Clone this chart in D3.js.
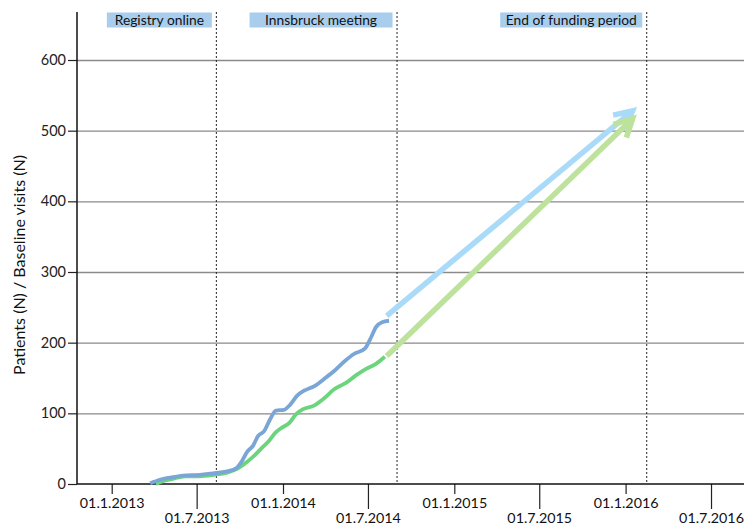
<!DOCTYPE html>
<html>
<head>
<meta charset="UTF-8">
<title>Registry recruitment</title>
<style>
  body { margin: 0; background: #fff; }
  svg { display: block; font-family: Lato, "Open Sans", sans-serif; }
</style>
</head>
<body>
<svg id="chart" width="744" height="526"></svg>
<script src="https://d3js.org/d3.v7.min.js"></script>
<script>

// ---- data ----
// cumulative patients (blue)
const patientDates = ["2013-03-24","2013-04-14","2013-05-05","2013-06-02","2013-07-08","2013-08-05",
  "2013-09-04","2013-09-23","2013-10-06","2013-10-16","2013-10-29","2013-11-09","2013-11-22",
  "2013-12-04","2013-12-17","2014-01-03","2014-01-16","2014-01-31","2014-02-15","2014-03-10",
  "2014-04-03","2014-04-20","2014-05-11","2014-06-01","2014-06-25","2014-07-08","2014-07-18",
  "2014-07-31","2014-08-15"];
const patientValues = [1, 6, 9, 12, 13, 15, 18, 22, 33, 45, 54, 68, 75, 91, 104, 105, 112, 125,
  132, 139, 151, 160, 173, 184, 192, 208, 222, 229, 231];

// cumulative baseline visits (green)
const visitDates = ["2013-04-05","2013-04-20","2013-05-09","2013-06-06","2013-07-08","2013-08-07",
  "2013-09-04","2013-09-27","2013-10-16","2013-11-02","2013-11-17","2013-12-02","2013-12-15",
  "2013-12-28","2014-01-14","2014-01-29","2014-02-13","2014-03-08","2014-03-29","2014-04-20",
  "2014-05-15","2014-06-06","2014-06-27","2014-07-18","2014-08-06"];
const visitValues = [0, 4, 7, 11, 11, 13, 16, 22, 31, 41, 51, 61, 72, 79, 86, 99, 106, 111, 121,
  134, 143, 154, 163, 170, 180];

// projected growth arrows: start and end date, start and end value
const projectionDates = ["2014-08-10", "2016-01-16"];
const patientProjection = [238, 528];
const visitProjection = [181, 517];

// milestones
const milestoneDates = ["2013-08-12", "2014-09-01", "2016-02-15"];
const milestoneLabels = ["Registry online", "Innsbruck meeting", "End of funding period"];

// axis ticks
const yTicks = [0, 100, 200, 300, 400, 500, 600];
const janTicks = ["2013-01-01", "2014-01-01", "2015-01-01", "2016-01-01"];
const julTicks = ["2013-07-01", "2014-07-01", "2015-07-01", "2016-07-01"];

const yLabel = "Patients (N) / Baseline visits (N)";

// ---- layout ----
const plotLeft = 77, plotRight = 744, plotTop = 12, plotBottom = 484;
const boxWidths = [105, 143, 142];   // milestone label boxes
const parse = d3.timeParse("%Y-%m-%d");
const fmt = d3.timeFormat("%d.%-m.%Y");

const svg = d3.select("#chart");

// time scale anchored on two ticks measured in the picture
let x = d3.scaleTime()
  .domain([parse("2013-01-01"), parse("2015-01-01")])
  .range([111.7, 454.3]);

let y = d3.scaleLinear()
  .domain([0, 600])
  .range([plotBottom, 60]);

// horizontal gridlines
svg.append("g")
  .attr("transform", `translate(${plotLeft},0)`)
  .call(d3.axisLeft(y).tickValues(yTicks.slice(1)).tickSize(-(plotRight - plotLeft)).tickFormat(""))
  .call(g => g.select(".domain").remove())
  .call(g => g.selectAll("line").attr("stroke", "#8a8a8a").attr("stroke-width", 1.3));

// milestone dashed lines + labels
milestoneDates.forEach((d, i) => {
  const mx = x(parse(d));
  const g = svg.append("g");
  g.append("line")
    .attr("x1", mx).attr("x2", mx)
    .attr("y1", plotTop).attr("y2", plotBottom)
    .attr("stroke", "#222").attr("stroke-width", 1)
    .attr("stroke-dasharray", "2,2");

  const boxRight = mx - 4.5;
  g.append("rect")
    .attr("x", boxRight - boxWidths[i]).attr("y", 12.5)
    .attr("width", boxWidths[i]).attr("height", 15)
    .attr("fill", "#a9cdec");
  g.append("text")
    .attr("x", boxRight - boxWidths[i] / 2)
    .attr("y", 25)
    .attr("font-size", 13.8)
    .attr("fill", "#111")
    .attr("text-anchor", "middle")
    .text(milestoneLabels[i]);
});

// x axes: January ticks short, July ticks long
svg.append("g")
  .attr("transform", `translate(0,${plotBottom})`)
  .call(d3.axisBottom(x).tickValues(janTicks.map(parse)).tickSize(10).tickPadding(4).tickFormat(fmt))
  .call(g => g.select(".domain").remove())
  .call(g => g.selectAll("line").attr("stroke", "#222").attr("stroke-width", 1.2))
  .call(g => g.selectAll("text").attr("font-size", 14.3).attr("fill", "#111").attr("font-family", "Lato"));

svg.append("g")
  .attr("transform", `translate(0,${plotBottom})`)
  .call(d3.axisBottom(x).tickValues(julTicks.map(parse)).tickSize(25).tickPadding(4).tickFormat(fmt))
  .call(g => g.select(".domain").remove())
  .call(g => g.selectAll("line").attr("stroke", "#222").attr("stroke-width", 1.2))
  .call(g => g.selectAll("text").attr("font-size", 14.3).attr("fill", "#111").attr("font-family", "Lato"));

// y axis
svg.append("g")
  .attr("transform", `translate(${plotLeft},0)`)
  .call(d3.axisLeft(y).tickValues(yTicks).tickSize(9).tickPadding(2))
  .call(g => g.select(".domain").remove())
  .call(g => g.selectAll("line").attr("stroke", "#222").attr("stroke-width", 1.2))
  .call(g => g.selectAll("text").attr("font-size", 14.5).attr("fill", "#222").attr("font-family", "Lato"));

// axis lines
svg.append("line").attr("x1", plotLeft).attr("x2", plotLeft).attr("y1", plotTop).attr("y2", plotBottom)
  .attr("stroke", "#111").attr("stroke-width", 1.5);
svg.append("line").attr("x1", plotLeft).attr("x2", plotRight).attr("y1", plotBottom).attr("y2", plotBottom)
  .attr("stroke", "#111").attr("stroke-width", 1.5);

// y title
svg.append("text")
  .attr("transform", "translate(25,265) rotate(-90)")
  .attr("text-anchor", "middle")
  .attr("font-size", 16)
  .attr("fill", "#111")
  .text(yLabel);

// cumulative lines
let line = d3.line()
  .x(d => x(d[0]))
  .y(d => y(d[1]))
  .curve(d3.curveMonotoneX);

svg.append("path")
  .datum(visitDates.map((d, i) => [parse(d), visitValues[i]]))
  .attr("d", line)
  .attr("fill", "none")
  .attr("stroke", "#6cd47c")
  .attr("stroke-width", 3.8);

svg.append("path")
  .datum(patientDates.map((d, i) => [parse(d), patientValues[i]]))
  .attr("d", line)
  .attr("fill", "none")
  .attr("stroke", "#79a6d6")
  .attr("stroke-width", 3.8);

// projection arrows
function arrow(vals, color) {
  const x1 = x(parse(projectionDates[0])), y1 = y(vals[0]);
  const x2 = x(parse(projectionDates[1])), y2 = y(vals[1]);
  const a = Math.atan2(y2 - y1, x2 - x1);
  const len = 20, spread = Math.PI / 6.5;
  const p1 = [x2 - len * Math.cos(a - spread), y2 - len * Math.sin(a - spread)];
  const p2 = [x2 - len * Math.cos(a + spread), y2 - len * Math.sin(a + spread)];
  const g = svg.append("g").attr("stroke", color).attr("fill", "none").attr("stroke-width", 5.5);
  g.append("line").attr("x1", x1).attr("y1", y1).attr("x2", x2 - 2 * Math.cos(a)).attr("y2", y2 - 2 * Math.sin(a));
  g.append("path")
    .attr("d", `M${p1[0]},${p1[1]}L${x2},${y2}L${p2[0]},${p2[1]}`)
    .attr("stroke-linejoin", "miter")
    .attr("stroke-miterlimit", 10);
}
arrow(patientProjection, "#a9daf8");
arrow(visitProjection, "#bde29c");

</script>
</body>
</html>
